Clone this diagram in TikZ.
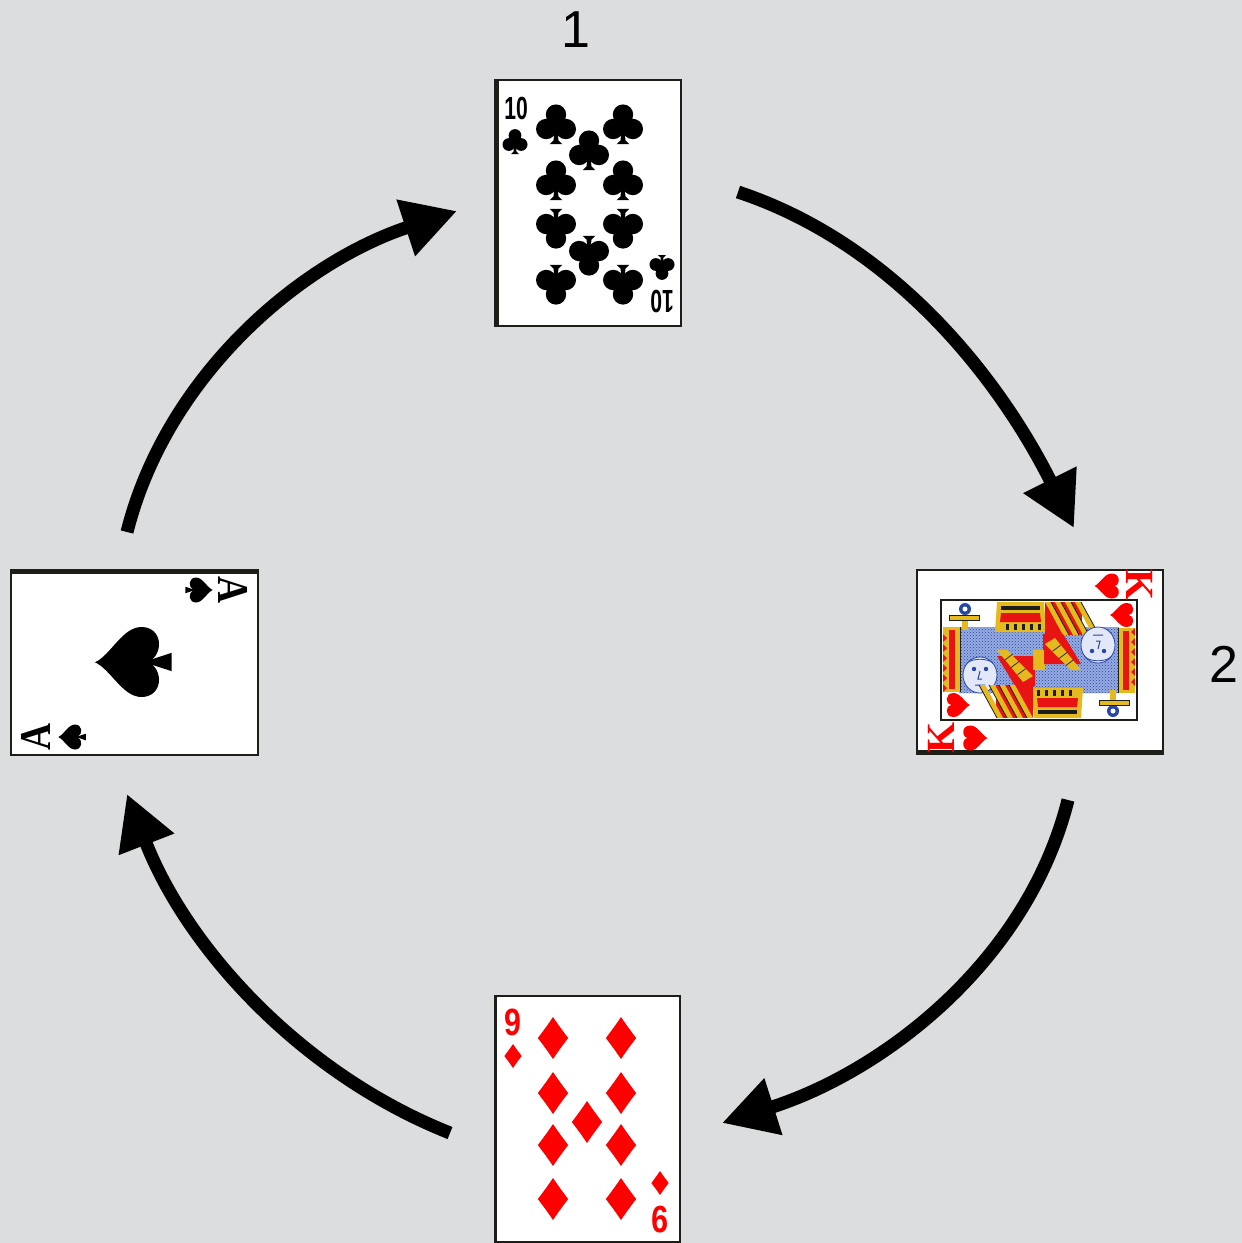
\documentclass[tikz,border=0pt]{standalone}
\usepackage{fontspec}
\setmainfont{Liberation Sans}
\newfontfamily\serifbf{Liberation Serif}
\usetikzlibrary{arrows.meta,patterns,calc}
\definecolor{bg}{RGB}{220,221,222}
\definecolor{cardred}{RGB}{255,0,0}
\definecolor{lace}{RGB}{150,172,225}
\definecolor{laceb}{RGB}{40,70,165}
\definecolor{gold}{RGB}{228,186,30}
\definecolor{kred}{RGB}{232,20,20}
\definecolor{edge}{RGB}{30,30,25}
\definecolor{facec}{RGB}{226,232,248}
\tikzset{
  cardbox/.style={draw=edge,line width=1.5pt,fill=white,rectangle,inner sep=0pt},
  bigarrow/.style={line width=13pt,-{Triangle[length=54pt,width=56pt]}},
  steplabel/.style={font=\fontsize{52}{52}\selectfont,inner sep=0pt},
  tenidx/.style={font=\bfseries\fontsize{32}{32}\selectfont,inner sep=0pt},
  nineidx/.style={font=\bfseries\fontsize{38}{38}\selectfont,inner sep=0pt,text=cardred},
  kidx/.style={font=\serifbf\bfseries\fontsize{40}{40}\selectfont,inner sep=0pt,text=cardred},
  aidx/.style={font=\serifbf\bfseries\fontsize{44}{44}\selectfont,inner sep=0pt},
  clubpip/.pic={
    \fill (0,-0.26) circle (0.255) (-0.245,0.1) circle (0.255) (0.245,0.1) circle (0.255);
    \fill (0,0.0) circle (0.17);
    \fill (-0.04,0.1) -- (0.04,0.1) -- (0.06,0.38) -- (0.16,0.48) -- (-0.16,0.48) -- (-0.06,0.38) -- cycle;
  },
  diapip/.pic={
    \fill (0,-0.5) .. controls (0.15,-0.28) .. (0.36,0) .. controls (0.15,0.28) .. (0,0.5)
      .. controls (-0.15,0.28) .. (-0.36,0) .. controls (-0.15,-0.28) .. cycle;
  },
  heartpip/.pic={
    \fill (0,-0.28) .. controls (0,-0.52) and (-0.5,-0.58) .. (-0.5,-0.18)
      .. controls (-0.5,0.1) and (-0.1,0.28) .. (0,0.5)
      .. controls (0.1,0.28) and (0.5,0.1) .. (0.5,-0.18)
      .. controls (0.5,-0.58) and (0,-0.52) .. cycle;
  },
  spadepip/.pic={
    \fill (0,-0.55) .. controls (-0.1,-0.32) and (-0.5,-0.15) .. (-0.5,0.12)
      .. controls (-0.5,0.42) and (-0.12,0.45) .. (0,0.22)
      .. controls (0.12,0.45) and (0.5,0.42) .. (0.5,0.12)
      .. controls (0.5,-0.15) and (0.1,-0.32) .. cycle;
    \fill (0,0.15) -- (-0.13,0.55) -- (0.13,0.55) -- cycle;
  }
}
\newcommand\kinghalfart{%
  % side strip
  \fill[gold] (-96,-33) rectangle (-79,32);
  \fill[kred] (-90,-30) rectangle (-84,29);
  \draw[edge,line width=0.8pt] (-79,-33) -- (-79,32);
  \foreach \yy in {-26,-16,...,26} {\fill[kred] (-96,\yy) -- (-92,\yy+4) -- (-96,\yy+8) -- cycle;}
  % sword handle
  \fill[laceb] (-74,-51) circle (6);
  \fill[white] (-74,-51) circle (2.5);
  \fill[gold] (-90,-45) rectangle (-60,-40);
  \fill[gold] (-77,-40) rectangle (-71,-30);
  \draw[edge,line width=0.6pt] (-90,-45) rectangle (-60,-40);
  % crown
  \fill[gold] (-44,-28) -- (-42,-58) -- (5,-58) -- (7,-28) -- cycle;
  \fill[edge] (-38,-54) rectangle (1,-50);
  \fill[kred] (-38,-47) -- (1,-47) -- (2,-38) -- (-39,-38) -- cycle;
  \foreach \xx in {-33,-25,...,0} {\fill[edge] (\xx,-36) rectangle (\xx+3,-30);}
  % robe stripes
  \fill[kred] (6,-58) -- (43,-58) -- (43,-25) -- (6,-25) -- cycle;
  \foreach \dd in {0,10,20,30} {\fill[gold] (6+\dd,-58) -- (12+\dd,-58) -- (30+\dd,-25) -- (24+\dd,-25) -- cycle;
    \draw[edge,line width=0.8pt] (12+\dd,-58) -- (30+\dd,-25);}
  % central red block and gold diagonal band
  \fill[kred] (-42,-4) -- (-4,-4) -- (-4,26) -- (-24,26) -- cycle;
  \fill[gold] (-42,-10) -- (-32,-10) -- (-6,16) -- (-16,22) -- cycle;
  \foreach \tt in {0.25,0.5,0.75} {\draw[edge,line width=0.7pt] ($(-37,-10)!\tt!(-11,19)$) ++(-4,3) -- ++(8,-6);}
  \fill[gold] (-5,-10) rectangle (6,10);
  % face
  \fill[facec] (-59,15) ellipse (17 and 18);
  \draw[laceb,line width=0.8pt] (-59,15) ellipse (17 and 18);
  \fill[laceb] (-65,9) circle (2.2) (-53,9) circle (2.2);
  \draw[laceb,line width=1pt] (-59,11) -- (-61,19) -- (-57,19) (-64,25) -- (-54,25);
  \draw[laceb,line width=0.8pt] (-72,3) .. controls (-66,-2) and (-52,-2) .. (-46,3);
}
\begin{document}
\begin{tikzpicture}[x=1pt,y=-1pt]
\useasboundingbox (0,0) rectangle (1242,1243);
\fill[bg] (0,0) rectangle (1242,1243);

% ---------- cards ----------
\node[cardbox,minimum width=186pt,minimum height=246pt] (ten) at (588,203) {};
\node[cardbox,minimum width=246pt,minimum height=184pt] (king) at (1040,662) {};
\node[cardbox,minimum width=185pt,minimum height=246pt] (nine) at (587.5,1119) {};
\node[cardbox,minimum width=247pt,minimum height=185pt] (ace) at (134.5,662.5) {};
\fill[edge] (ten.north west) rectangle ([xshift=4.5pt]ten.south west);
\fill[edge] (king.south west) rectangle ([yshift=5pt]king.south east);
\fill[edge] (ace.north west) rectangle ([yshift=-4.5pt]ace.north east);
\fill[edge] (nine.north west) rectangle ([xshift=3pt]nine.south west);

% ---------- ten of clubs ----------
\foreach \px/\py in {556/125,623/125,589/151,556/181,623/181}
  \pic[scale=40] at (\px,\py) {clubpip};
\foreach \px/\py in {556/228,623/228,589/255,556/284,623/284}
  \pic[scale=40,rotate=180] at (\px,\py) {clubpip};
\node[tenidx,xscale=0.66] (tenA) at (516,108) {10};
\pic[scale=25] at (515,142) {clubpip};
\pic[scale=25,rotate=180] at (662,267) {clubpip};
\node[tenidx,xscale=0.66,rotate=180] (tenB) at (662,302) {10};

% ---------- nine of diamonds ----------
\foreach \px/\py in {553/1038,621/1038,553/1093,621/1093,587/1122,553/1145,621/1145,553/1199,621/1199}
  \pic[cardred,scale=42] at (\px,\py) {diapip};
\node[nineidx,xscale=0.8] (nineA) at (513,1022) {9};
\pic[cardred,scale=24] at (513,1056) {diapip};
\pic[cardred,scale=24] at (660,1183) {diapip};
\node[nineidx,xscale=0.8,rotate=180] (nineB) at (660,1220) {9};

% ---------- ace of spades ----------
\pic[scale=70,rotate=90] at (133,662) {spadepip};
\pic[scale=25,rotate=-90] at (199,590) {spadepip};
\node[aidx,rotate=-90] (aceA) at (233,590) {\scalebox{0.85}[1]{A}};
\pic[scale=25,rotate=90] at (72,737) {spadepip};
\node[aidx,rotate=90] (aceB) at (36,737) {\scalebox{0.85}[1]{A}};

% ---------- king of hearts ----------
\begin{scope}[shift={(1039,660)}]
  \fill[white] (-98,-60) rectangle (98,60);
  \fill[lace] (-80,-33) rectangle (80,33);
  \fill[pattern=crosshatch dots,pattern color=laceb] (-80,-33) rectangle (80,33);
  \kinghalfart
\end{scope}
\begin{scope}[shift={(1039,660)},rotate=180]
  \kinghalfart
\end{scope}
\draw[edge,line width=2pt] (941,600) rectangle (1137,720);
\pic[cardred,scale=24,rotate=-90] at (1122,615) {heartpip};
\pic[cardred,scale=24,rotate=90] at (958,705) {heartpip};
\pic[cardred,scale=25,rotate=-90] at (1107,586) {heartpip};
\node[kidx,rotate=-90] (kA) at (1140,585) {K};
\pic[cardred,scale=25,rotate=90] at (975,738) {heartpip};
\node[kidx,rotate=90] (kB) at (941,738) {K};

% ---------- labels ----------
\node[steplabel] (lab1) at (576,30) {1};
\node[steplabel] (lab2) at (1224,664) {2};

% ---------- arrows ----------
\coordinate (a1s) at (738,192);  \coordinate (a1e) at (1074,528);
\coordinate (a2s) at (1068,800); \coordinate (a2e) at (722,1123);
\coordinate (a3s) at (450,1133); \coordinate (a3e) at (127,794);
\coordinate (a4s) at (127,532);  \coordinate (a4e) at (457,211);
\draw[bigarrow] (a1s) .. controls (895,244) and (1000,380) .. (a1e);
\draw[bigarrow] (a2s) .. controls (1027,963) and (882,1072) .. (a2e);
\draw[bigarrow] (a3s) .. controls (299,1073) and (186,946) .. (a3e);
\draw[bigarrow] (a4s) .. controls (167,374) and (302,262) .. (a4e);
\end{tikzpicture}
\end{document}
